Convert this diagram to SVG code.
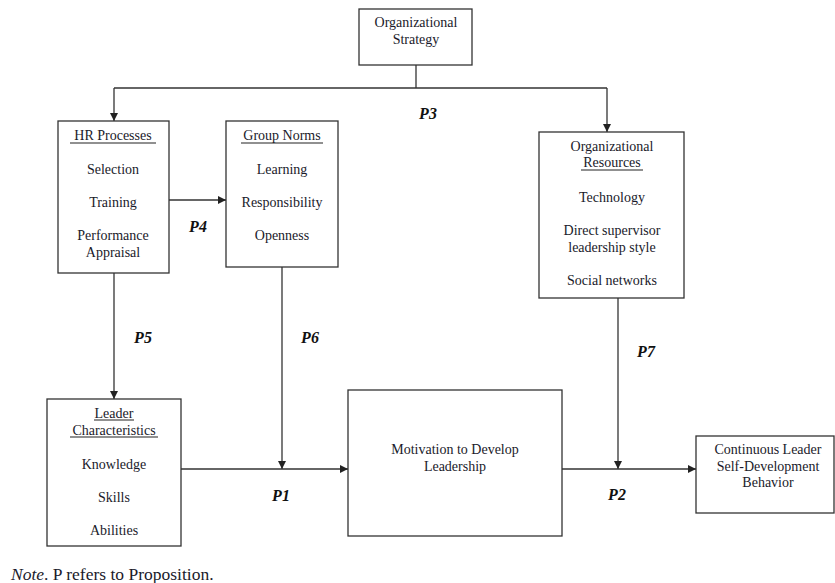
<svg xmlns="http://www.w3.org/2000/svg" width="835" height="583" viewBox="0 0 835 583">
  <style>
    .box { fill: #ffffff; stroke: #333333; stroke-width: 1.3; }
    .edge { fill: none; stroke: #333333; stroke-width: 1.3; }
    .ul { stroke: #222222; stroke-width: 1.1; }
    text { font-family: "Liberation Serif", "Times New Roman", serif; font-size: 14px; fill: #1a1a2a; text-anchor: middle; }
    .p { font-weight: bold; font-style: italic; font-size: 16px; fill: #111111; }
    .note { text-anchor: start; font-size: 17.5px; }
  </style>
  <defs>
    <marker id="arrow" viewBox="0 0 10 10" refX="10" refY="5" markerWidth="8" markerHeight="8" markerUnits="userSpaceOnUse" orient="auto">
      <path d="M0,0 L10,5 L0,10 Z" fill="#222222"/>
    </marker>
  </defs>

  <!-- connectors -->
  <g id="connectors">
    <path class="edge" d="M416,65 V88"/>
    <path class="edge" d="M114,88 H607"/>
    <path class="edge" d="M114,88 V121" marker-end="url(#arrow)"/>
    <path class="edge" d="M607,88 V132" marker-end="url(#arrow)"/>
    <path class="edge" d="M169,200 H226" marker-end="url(#arrow)"/>
    <path class="edge" d="M114,273 V399" marker-end="url(#arrow)"/>
    <path class="edge" d="M282,267 V469" marker-end="url(#arrow)"/>
    <path class="edge" d="M181,469 H348" marker-end="url(#arrow)"/>
    <path class="edge" d="M618,298 V469" marker-end="url(#arrow)"/>
    <path class="edge" d="M562,469 H696" marker-end="url(#arrow)"/>
  </g>

  <!-- proposition labels -->
  <g id="labels">
    <text class="p" x="428" y="119">P3</text>
    <text class="p" x="198" y="232">P4</text>
    <text class="p" x="143" y="343">P5</text>
    <text class="p" x="310" y="343">P6</text>
    <text class="p" x="646" y="357">P7</text>
    <text class="p" x="281" y="501">P1</text>
    <text class="p" x="617" y="500">P2</text>
  </g>

  <g id="strategy">
    <rect class="box" x="359" y="9" width="113" height="56"/>
    <text x="416" y="27">Organizational</text>
    <text x="416" y="44">Strategy</text>
  </g>

  <g id="hr-processes">
    <rect class="box" x="58" y="121" width="111" height="152"/>
    <text x="113" y="140"> HR Processes</text>
    <line class="ul" x1="70" y1="143" x2="156" y2="143"/>
    <text x="113" y="174">Selection</text>
    <text x="113" y="207">Training</text>
    <text x="113" y="240">Performance</text>
    <text x="113" y="257">Appraisal</text>
  </g>

  <g id="group-norms">
    <rect class="box" x="226" y="121" width="112" height="146"/>
    <text x="282" y="140">Group Norms</text>
    <line class="ul" x1="241" y1="143" x2="323" y2="143"/>
    <text x="282" y="174">Learning</text>
    <text x="282" y="207">Responsibility</text>
    <text x="282" y="240">Openness</text>
  </g>

  <g id="org-resources">
    <rect class="box" x="539" y="132" width="145" height="166"/>
    <text x="612" y="151">Organizational</text>
    <text x="612" y="167">Resources</text>
    <line class="ul" x1="581" y1="170" x2="643" y2="170"/>
    <text x="612" y="202">Technology</text>
    <text x="612" y="235">Direct supervisor</text>
    <text x="612" y="252">leadership style</text>
    <text x="612" y="285">Social networks</text>
  </g>

  <g id="leader-characteristics">
    <rect class="box" x="47" y="399" width="134" height="147"/>
    <text x="114" y="418">Leader</text>
    <line class="ul" x1="94" y1="420" x2="134" y2="420"/>
    <text x="114" y="435">Characteristics</text>
    <line class="ul" x1="70" y1="437" x2="158" y2="437"/>
    <text x="114" y="469">Knowledge</text>
    <text x="114" y="502">Skills</text>
    <text x="114" y="535">Abilities</text>
  </g>

  <g id="motivation">
    <rect class="box" x="348" y="390" width="214" height="146"/>
    <text x="455" y="454">Motivation to Develop</text>
    <text x="455" y="471">Leadership</text>
  </g>

  <g id="self-development">
    <rect class="box" x="696" y="436" width="138" height="77"/>
    <text x="768" y="454">Continuous Leader</text>
    <text x="768" y="471">Self-Development</text>
    <text x="768" y="487">Behavior</text>
  </g>

  <text class="note" x="11" y="580"><tspan font-style="italic">Note</tspan>. P refers to Proposition.</text>
</svg>
